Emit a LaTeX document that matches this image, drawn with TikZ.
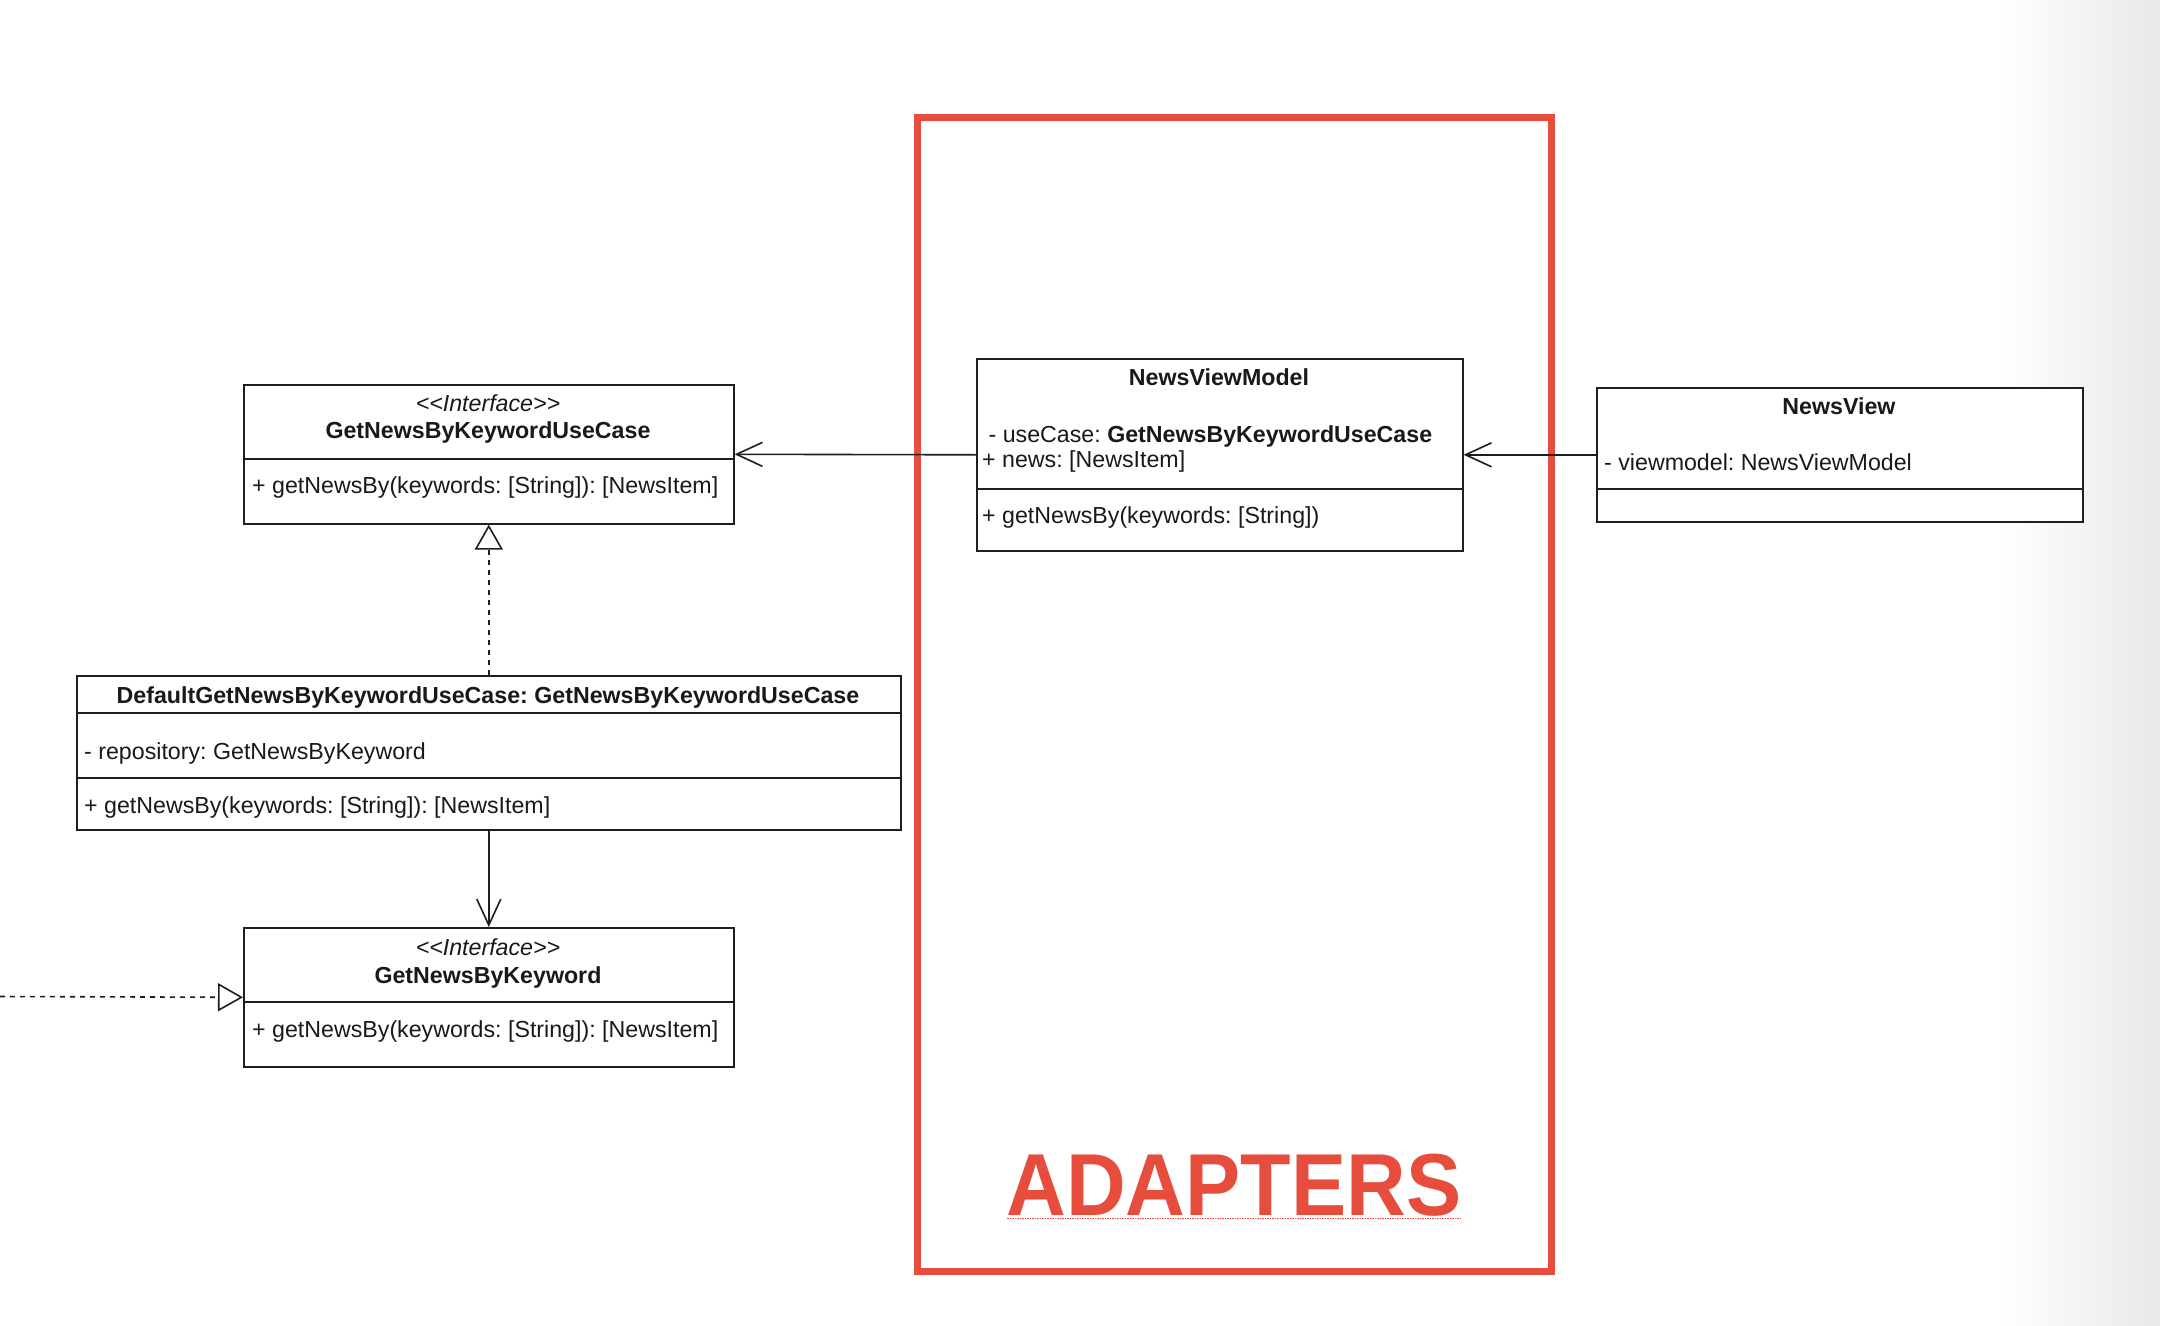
\documentclass[tikz,border=0pt]{standalone}
\usepackage{fontspec}
\setmainfont{Liberation Sans}
\usetikzlibrary{arrows.meta}
\definecolor{adred}{RGB}{231,77,61}
\definecolor{umlline}{RGB}{30,30,30}
\newcommand{\stereo}{<\kern0pt<Interface>\kern0pt>}
\tikzset{
  umlbox/.style={draw=umlline, line width=1.6pt, fill=white, inner sep=0pt, anchor=north west},
  divider/.style={draw=umlline, line width=1.6pt},
  ttl/.style={font=\frenchspacing\bfseries\fontsize{23.2}{27}\selectfont, anchor=base, inner sep=0pt, text=black!90},
  itl/.style={font=\frenchspacing\itshape\fontsize{23.2}{27}\selectfont, anchor=base, inner sep=0pt, text=black!90},
  txt/.style={font=\frenchspacing\fontsize{23.2}{27}\selectfont, anchor=base west, inner sep=0pt, text=black!90},
  dep/.style={draw=umlline, line width=1.6pt, -{Straight Barb[length=26pt,width=24pt]}},
  realiz/.style={draw=umlline, line width=1.6pt, dash pattern=on 5pt off 5pt, -{Triangle[open,length=25pt,width=28pt,fill=white]}},
}
\begin{document}
\begin{tikzpicture}[x=1pt,y=-1pt]
\useasboundingbox (0,0) rectangle (2160,1325);
\fill[white] (0,0) rectangle (2160,1325);
\shade[left color=white, right color=black!9, shading angle=90] (2000,0) rectangle (2160,1325);

% red ADAPTERS frame
\draw[adred, line width=7pt] (917.5,117.5) rectangle (1551,1271);
\node[font=\bfseries\fontsize{88}{100}\selectfont, text=adred, anchor=base, inner sep=0pt] (adapters) at (1234,1215) {\scalebox{0.94}[1]{ADAPTERS}};
\draw[adred, line width=1pt, dash pattern=on 1.5pt off 1pt] (1007,1218) -- (1462,1218);

% GetNewsByKeywordUseCase interface
\node[umlbox, minimum width=490pt, minimum height=139pt] (uc) at (243,384) {};
\draw[divider] (243,459) -- (733,459);
\node[itl] (ucst) at (488,411) {\stereo};
\node[ttl] (ucname) at (488,438) {GetNewsByKeywordUseCase};
\node[txt] (ucop) at (252,493) {+ getNewsBy(keywords: [String]): [NewsItem]};

% NewsViewModel
\node[umlbox, minimum width=486pt, minimum height=192pt] (nvm) at (976,358) {};
\draw[divider] (976,489) -- (1462,489);
\node[ttl] (nvmname) at (1219,385) {NewsViewModel};
\node[txt] (nvmat1) at (982,442) {\ - useCase: \textbf{GetNewsByKeywordUseCase}};
\node[txt] (nvmat2) at (982,467) {+ news: [NewsItem]};
\node[txt] (nvmop) at (982,523) {+ getNewsBy(keywords: [String])};

% NewsView
\node[umlbox, minimum width=486pt, minimum height=134pt] (nv) at (1596,387) {};
\draw[divider] (1596,489) -- (2082,489);
\node[ttl] (nvname) at (1839,414) {NewsView};
\node[txt] (nvat) at (1604,470) {- viewmodel: NewsViewModel};

% DefaultGetNewsByKeywordUseCase
\node[umlbox, minimum width=824pt, minimum height=154pt] (dflt) at (76,675) {};
\draw[divider] (76,713) -- (900,713);
\draw[divider] (76,778) -- (900,778);
\node[ttl] (dfltname) at (488,703) {DefaultGetNewsByKeywordUseCase: GetNewsByKeywordUseCase};
\node[txt] (dfltat) at (84,759) {- repository: GetNewsByKeyword};
\node[txt] (dfltop) at (84,813) {+ getNewsBy(keywords: [String]): [NewsItem]};

% GetNewsByKeyword interface
\node[umlbox, minimum width=490pt, minimum height=139pt] (repo) at (243,927) {};
\draw[divider] (243,1002) -- (733,1002);
\node[itl] (repost) at (488,955) {\stereo};
\node[ttl] (reponame) at (488,983) {GetNewsByKeyword};
\node[txt] (repoop) at (252,1037) {+ getNewsBy(keywords: [String]): [NewsItem]};

% connectors
\coordinate (leftend) at (0,996.5);
\draw[dep] (nvm.west) -- (uc.east);
\draw[dep] (nv.west) -- (nvm.west -| nvm.east);
\draw[realiz] (dflt.north) -- (uc.south);
\draw[dep] (dflt.south) -- (repo.north);
\draw[realiz] (leftend) -- (repo.west);
\end{tikzpicture}
\end{document}
